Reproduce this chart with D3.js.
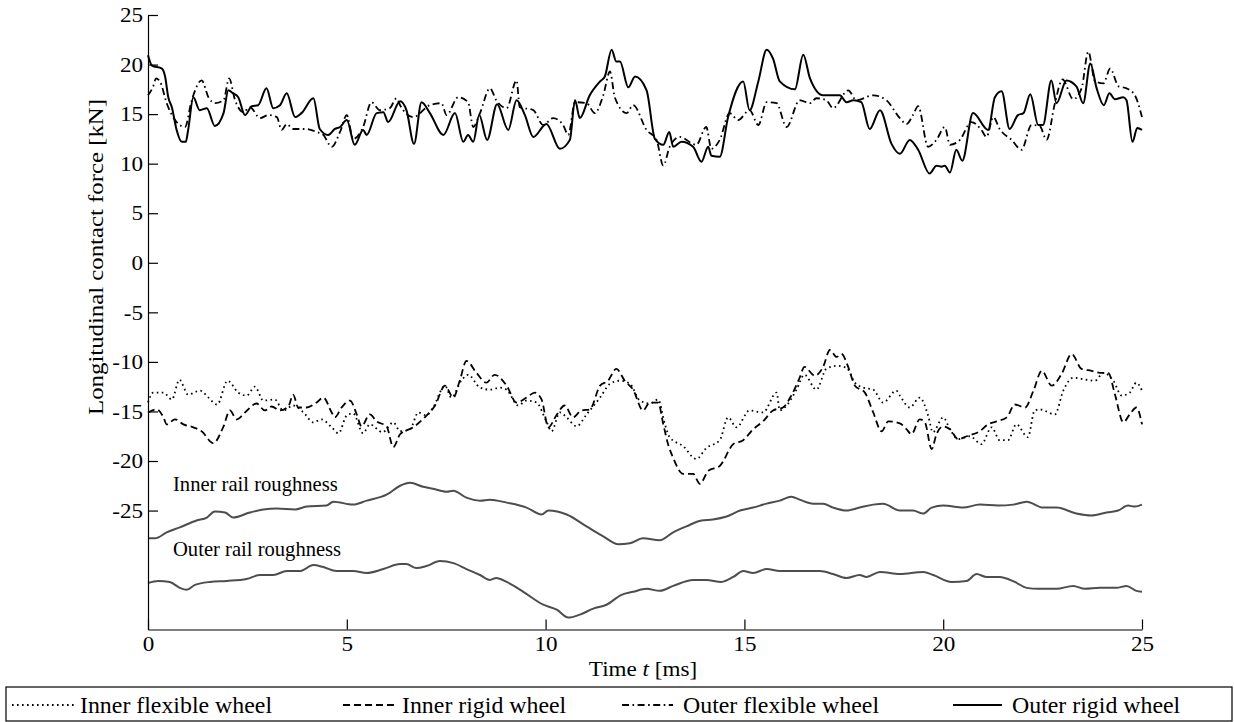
<!DOCTYPE html>
<html>
<head>
<meta charset="utf-8">
<script src="https://cdn.jsdelivr.net/npm/d3@7"></script>
<style>
  body { margin: 0; background: #fff; }
  svg text { font-family: 'Liberation Serif', 'Times New Roman', serif; fill: #000; }
</style>
</head>
<body>
<div id="chart"></div>
<script>
// ==============================
// DATA  ([t in ms, value])
// ==============================

const outerRigid = [[0,20.95],[0.1,19.9],[0.35,19.6],[0.43,18.8],[0.51,16.7],[0.6,15.7],[0.72,13.4],[0.85,12.2],[0.95,12.2],[1.01,13.4],[1.14,16.7],[1.3,15.4],[1.48,15.6],[1.68,13.8],[1.9,15.1],[2.02,17.4],[2.14,17.1],[2.27,16.7],[2.44,14.9],[2.61,15.8],[2.77,15.9],[2.98,17.6],[3.15,15.6],[3.32,15.9],[3.49,17.1],[3.7,14.7],[3.86,15.1],[4.16,16.6],[4.32,13.5],[4.53,12.9],[4.7,13.5],[4.83,13.7],[5.0,14.4],[5.2,11.9],[5.41,13.4],[5.5,12.9],[5.75,15.1],[5.92,15.2],[6.04,14.2],[6.34,16.3],[6.5,15.4],[6.69,12.0],[6.88,16.2],[7.09,15.1],[7.43,12.9],[7.72,15.1],[7.93,12.2],[8.05,12.9],[8.18,12.2],[8.33,14.9],[8.53,12.4],[8.78,16.0],[9.06,13.4],[9.27,16.4],[9.48,14.9],[9.69,12.7],[10.02,14.0],[10.36,11.5],[10.61,12.4],[10.74,16.4],[10.86,14.6],[11.11,16.9],[11.37,18.3],[11.49,18.8],[11.66,21.5],[11.78,20.3],[11.87,20.3],[12.08,17.7],[12.25,18.8],[12.54,17.4],[12.75,12.5],[12.96,11.9],[13.11,13.2],[13.21,11.7],[13.42,12.2],[13.71,11.7],[13.92,10.2],[14.09,11.7],[14.17,10.8],[14.38,10.7],[14.59,14.7],[14.97,18.3],[15.13,15.4],[15.35,18.3],[15.56,21.5],[15.72,20.6],[15.89,18.3],[16.27,17.5],[16.48,21.0],[16.65,18.6],[16.98,16.9],[17.4,16.9],[17.57,16.2],[17.74,16.4],[17.94,16.2],[18.15,13.5],[18.41,15.4],[18.7,12.0],[18.91,11.0],[19.16,12.4],[19.37,11.4],[19.66,9.0],[19.83,9.8],[19.96,9.7],[20.04,9.8],[20.17,9.1],[20.33,11.4],[20.48,10.3],[20.75,15.1],[21.13,13.4],[21.3,16.7],[21.47,17.3],[21.67,13.5],[21.88,14.9],[22.02,15.1],[22.19,17.0],[22.39,13.9],[22.51,13.9],[22.72,18.4],[22.85,16.1],[23.1,18.4],[23.35,17.8],[23.52,16.1],[23.7,20.1],[23.86,17.6],[24.04,15.9],[24.18,17.1],[24.32,16.5],[24.53,16.7],[24.61,16.4],[24.76,12.2],[24.88,13.6],[25,13.4]];

const outerFlexible = [[0,16.9],[0.14,17.9],[0.2,18.6],[0.3,18.3],[0.47,16.1],[0.72,14.2],[0.93,13.7],[1.1,16.4],[1.35,18.4],[1.52,16.7],[1.68,16.1],[1.9,16.4],[2.04,18.6],[2.19,16.4],[2.4,15.2],[2.56,15.7],[2.82,14.6],[3.02,14.9],[3.24,14.7],[3.36,13.4],[3.49,14.0],[3.65,13.5],[3.99,13.5],[4.24,13.2],[4.41,12.9],[4.62,11.7],[4.83,13.2],[5.0,14.9],[5.16,12.5],[5.41,13.7],[5.62,16.2],[5.83,15.4],[6.08,15.6],[6.25,16.6],[6.34,15.9],[6.67,14.7],[7.09,15.9],[7.38,16.1],[7.51,14.9],[7.8,16.7],[8.05,16.2],[8.18,13.7],[8.35,15.1],[8.6,17.6],[8.76,16.4],[9.02,15.6],[9.27,18.4],[9.35,15.7],[9.69,15.4],[9.94,13.9],[10.19,14.6],[10.44,13.9],[10.57,12.9],[10.74,16.2],[11.03,16.1],[11.24,15.1],[11.45,16.9],[11.62,19.3],[11.74,16.7],[12.04,15.1],[12.2,15.9],[12.54,13.4],[12.79,12.4],[12.96,9.8],[13.12,11.7],[13.37,12.7],[13.79,11.9],[14.04,13.7],[14.17,11.5],[14.38,12.4],[14.63,15.1],[14.84,14.4],[15.13,15.4],[15.35,13.9],[15.56,16.2],[15.81,16.1],[16.06,13.7],[16.39,16.4],[16.65,16.1],[16.81,16.6],[17.06,16.4],[17.23,15.6],[17.61,17.4],[17.82,16.4],[18.24,16.9],[18.57,16.4],[18.91,14.6],[19.08,14.0],[19.24,14.9],[19.37,15.8],[19.62,11.7],[19.83,12.4],[20.04,13.7],[20.17,11.9],[20.42,12.4],[20.71,14.2],[20.96,13.4],[21.09,12.7],[21.26,14.7],[21.42,13.5],[21.72,12.4],[21.97,11.4],[22.22,13.9],[22.43,13.8],[22.6,12.4],[22.81,16.1],[23.0,18.5],[23.27,16.5],[23.48,17.6],[23.65,21.3],[23.82,18.3],[24.03,18.1],[24.2,19.6],[24.41,17.8],[24.61,17.6],[24.82,16.9],[25,14.7]];

const innerRigid = [[0,-15.1],[0.22,-14.8],[0.39,-15.6],[0.47,-16.3],[0.68,-15.8],[0.89,-16.3],[1.14,-16.6],[1.35,-17.0],[1.64,-18.2],[1.9,-16.5],[2.06,-14.9],[2.23,-15.8],[2.44,-15.1],[2.73,-14.2],[2.94,-14.9],[3.11,-14.5],[3.32,-14.9],[3.53,-14.5],[3.65,-13.3],[3.78,-14.6],[3.99,-14.6],[4.24,-14.1],[4.41,-13.6],[4.62,-15.1],[4.7,-15.6],[4.87,-14.6],[5.08,-13.9],[5.25,-15.3],[5.37,-16.5],[5.58,-15.3],[5.75,-16.0],[6.0,-16.5],[6.17,-18.6],[6.34,-17.3],[6.67,-16.6],[6.96,-15.6],[7.22,-14.4],[7.47,-12.4],[7.68,-13.6],[7.84,-11.9],[8.01,-9.9],[8.26,-11.1],[8.51,-12.1],[8.72,-11.3],[9.02,-12.4],[9.27,-14.1],[9.52,-13.6],[9.73,-13.1],[9.9,-13.8],[10.07,-16.6],[10.27,-15.4],[10.48,-14.4],[10.69,-15.6],[10.9,-14.9],[11.11,-14.8],[11.37,-12.4],[11.57,-11.9],[11.78,-10.7],[11.99,-11.9],[12.2,-12.8],[12.45,-14.9],[12.62,-14.1],[12.83,-14.1],[12.96,-16.3],[13.08,-18.3],[13.21,-19.7],[13.46,-21.3],[13.71,-21.3],[13.88,-22.3],[14.09,-21.0],[14.38,-20.5],[14.72,-18.3],[14.97,-17.9],[15.22,-16.8],[15.47,-16.0],[15.72,-14.9],[15.97,-14.6],[16.18,-13.4],[16.39,-11.6],[16.51,-10.5],[16.77,-11.4],[16.98,-10.5],[17.15,-8.8],[17.32,-9.5],[17.44,-9.2],[17.61,-10.5],[17.78,-12.4],[18.03,-13.1],[18.24,-15.1],[18.45,-17.0],[18.62,-16.0],[18.91,-16.2],[19.08,-16.8],[19.2,-17.3],[19.41,-15.8],[19.54,-16.1],[19.71,-18.8],[19.83,-17.3],[20.0,-16.5],[20.17,-16.8],[20.38,-17.8],[20.59,-17.5],[20.92,-17.0],[21.13,-16.3],[21.34,-16.0],[21.6,-15.6],[21.8,-14.3],[22.06,-14.6],[22.27,-12.9],[22.48,-10.9],[22.73,-12.4],[22.98,-11.2],[23.23,-9.2],[23.48,-10.7],[23.73,-10.9],[23.94,-11.1],[24.15,-11.1],[24.32,-13.3],[24.53,-16.1],[24.69,-15.3],[24.86,-14.6],[25,-16.3]];

const innerFlexible = [[0,-14.1],[0.13,-13.1],[0.39,-13.1],[0.6,-13.8],[0.79,-11.8],[1.01,-13.3],[1.31,-12.9],[1.52,-13.6],[1.74,-14.3],[2.0,-11.9],[2.27,-13.1],[2.48,-13.4],[2.69,-12.5],[2.9,-13.9],[3.19,-13.8],[3.4,-14.9],[3.65,-14.4],[3.91,-15.1],[4.16,-16.1],[4.36,-15.8],[4.62,-16.6],[4.79,-17.2],[5.0,-15.4],[5.16,-15.2],[5.41,-17.2],[5.58,-16.3],[5.9,-17.1],[6.17,-16.1],[6.34,-17.0],[6.59,-16.8],[6.8,-15.1],[7.0,-15.4],[7.17,-14.6],[7.47,-12.4],[7.63,-13.6],[7.88,-11.9],[8.05,-11.3],[8.35,-12.6],[8.6,-12.8],[8.85,-12.6],[9.02,-12.8],[9.31,-14.4],[9.52,-13.9],[9.77,-14.1],[10.02,-16.0],[10.15,-17.0],[10.36,-15.1],[10.53,-15.6],[10.78,-16.5],[11.03,-15.3],[11.37,-13.6],[11.62,-12.2],[11.87,-11.9],[12.12,-12.2],[12.37,-13.9],[12.62,-14.2],[12.83,-13.8],[13.0,-16.3],[13.12,-17.6],[13.46,-18.5],[13.79,-19.8],[14.04,-18.7],[14.38,-17.9],[14.59,-15.6],[14.8,-16.6],[15.13,-14.9],[15.47,-15.1],[15.81,-13.1],[15.89,-14.9],[16.06,-14.4],[16.31,-12.8],[16.51,-11.3],[16.81,-12.8],[17.06,-10.7],[17.32,-10.4],[17.57,-10.6],[17.78,-12.1],[17.99,-12.6],[18.24,-12.8],[18.49,-14.1],[18.82,-12.9],[18.91,-13.4],[19.16,-14.6],[19.41,-13.6],[19.62,-15.4],[19.74,-17.1],[20.0,-15.6],[20.17,-16.8],[20.38,-17.8],[20.67,-17.5],[20.96,-18.3],[21.22,-16.6],[21.42,-17.9],[21.63,-17.9],[21.84,-16.3],[22.13,-17.6],[22.3,-14.9],[22.43,-14.8],[22.81,-15.3],[23.02,-12.9],[23.27,-11.6],[23.6,-11.8],[23.82,-11.9],[24.03,-11.1],[24.28,-11.9],[24.49,-13.4],[24.69,-13.1],[24.86,-12.1],[25,-12.9]];

const innerRoughness = [[0,-27.8],[0.18,-27.8],[0.47,-27.2],[0.8,-26.7],[1.22,-26.0],[1.48,-25.7],[1.68,-25.1],[1.94,-25.2],[2.14,-25.7],[2.56,-25.2],[2.9,-24.9],[3.24,-24.8],[3.7,-24.9],[3.99,-24.6],[4.49,-24.5],[4.66,-24.1],[5.16,-24.4],[5.5,-24.0],[6.0,-23.4],[6.34,-22.5],[6.59,-22.2],[6.92,-22.6],[7.17,-22.8],[7.51,-23.1],[7.68,-23.0],[8.01,-23.7],[8.35,-24.0],[8.6,-23.9],[9.02,-24.2],[9.52,-24.7],[9.9,-25.4],[10.07,-25.0],[10.53,-25.4],[11.03,-26.6],[11.45,-27.6],[11.83,-28.4],[12.12,-28.3],[12.45,-27.8],[12.87,-28.0],[13.21,-27.2],[13.54,-26.6],[13.92,-26.0],[14.21,-25.9],[14.55,-25.6],[14.89,-25.0],[15.22,-24.7],[15.56,-24.3],[15.89,-24.0],[16.18,-23.6],[16.39,-23.9],[16.73,-24.3],[16.98,-24.3],[17.23,-24.7],[17.57,-25.0],[17.9,-24.7],[18.24,-24.4],[18.49,-24.3],[18.91,-25.0],[19.24,-25.0],[19.5,-25.3],[19.71,-24.7],[20.0,-24.5],[20.5,-24.7],[20.92,-24.4],[21.38,-24.5],[21.76,-24.4],[22.1,-24.1],[22.51,-24.7],[22.85,-24.7],[23.35,-25.3],[23.73,-25.5],[24.11,-25.2],[24.4,-25.0],[24.65,-24.5],[24.82,-24.6],[25,-24.4]];

const outerRoughness = [[0,-32.3],[0.26,-32.1],[0.55,-32.2],[0.8,-32.8],[0.97,-33.0],[1.18,-32.5],[1.56,-32.2],[1.98,-32.1],[2.48,-31.9],[2.82,-31.5],[3.15,-31.5],[3.49,-31.1],[3.82,-31.1],[4.16,-30.5],[4.41,-30.7],[4.74,-31.1],[5.16,-31.1],[5.5,-31.3],[5.92,-30.9],[6.34,-30.4],[6.5,-30.4],[6.75,-30.8],[7.0,-30.6],[7.34,-30.1],[7.68,-30.3],[8.01,-30.9],[8.35,-31.5],[8.6,-32.0],[8.76,-31.8],[9.02,-32.2],[9.44,-33.2],[9.94,-34.5],[10.28,-35.0],[10.57,-35.8],[10.86,-35.5],[11.2,-34.9],[11.53,-34.5],[11.91,-33.5],[12.2,-33.2],[12.54,-32.9],[12.87,-33.1],[13.21,-32.6],[13.71,-32.0],[14.04,-32.0],[14.42,-32.2],[14.72,-31.7],[14.97,-31.1],[15.22,-31.3],[15.56,-30.9],[15.89,-31.1],[16.23,-31.1],[16.56,-31.1],[16.9,-31.1],[17.23,-31.4],[17.57,-31.8],[17.9,-31.5],[18.07,-31.7],[18.41,-31.2],[18.91,-31.4],[19.5,-31.2],[19.75,-31.5],[20.21,-32.2],[20.59,-32.1],[20.84,-31.4],[21.09,-31.7],[21.42,-31.7],[21.8,-32.2],[22.1,-32.8],[22.39,-32.9],[22.85,-32.9],[23.27,-32.6],[23.56,-32.9],[23.94,-32.8],[24.36,-32.8],[24.61,-32.6],[24.86,-33.1],[25,-33.2]];

const xTicks = [0, 5, 10, 15, 20, 25];
const yTicks = [-25, -20, -15, -10, -5, 0, 5, 10, 15, 20, 25];

const legendLabels = ['Inner flexible wheel', 'Inner rigid wheel', 'Outer flexible wheel', 'Outer rigid wheel'];

// ==============================
// RENDER
// ==============================

const W = 1234, H = 722;
const svg = d3.select('#chart').append('svg').attr('width', W).attr('height', H);
svg.append('rect').attr('width', W).attr('height', H).attr('fill', '#fff');

const x = d3.scaleLinear().domain([0, 25]).range([148, 1142]);
const y = d3.scaleLinear().domain([-37, 25]).range([629.5, 15]);

// stretch text horizontally (reference type is set a bit wide)
function stretch(sel, k) {
  sel.each(function () {
    const w = this.getComputedTextLength();
    d3.select(this).attr('textLength', w * k).attr('lengthAdjust', 'spacingAndGlyphs');
  });
}

// line styles
const styles = {
  innerFlexible: { dash: '1.6,3.4', width: 1.8, color: '#000' },
  innerRigid: { dash: '7,4', width: 1.8, color: '#000' },
  outerFlexible: { dash: '7,3.5,1.6,3.5', width: 1.8, color: '#000' },
  outerRigid: { dash: null, width: 2, color: '#000' },
  roughness: { dash: null, width: 2, color: '#4d4d4d' },
};

const line = d3.line()
  .x((d) => x(d[0]))
  .y((d) => y(d[1]))
  .curve(d3.curveMonotoneX);

function drawSeries(data, st) {
  svg.append('path')
    .datum(data)
    .attr('fill', 'none')
    .attr('stroke', st.color)
    .attr('stroke-width', st.width)
    .attr('stroke-linejoin', 'round')
    .attr('stroke-dasharray', st.dash)
    .attr('d', line);
}

drawSeries(innerRoughness, styles.roughness);
drawSeries(outerRoughness, styles.roughness);
drawSeries(innerFlexible, styles.innerFlexible);
drawSeries(innerRigid, styles.innerRigid);
drawSeries(outerFlexible, styles.outerFlexible);
drawSeries(outerRigid, styles.outerRigid);

// axes
const yAxisG = svg.append('g')
  .attr('transform', `translate(${x(0)},0)`)
  .call(d3.axisLeft(y).tickValues(yTicks).tickSizeInner(-10).tickSizeOuter(0)
    .tickPadding(5).tickFormat((d) => String(d)));
const xAxisG = svg.append('g')
  .attr('transform', `translate(0,${y(-37)})`)
  .call(d3.axisBottom(x).tickValues(xTicks).tickSizeInner(-10).tickSizeOuter(0)
    .tickPadding(7).tickFormat((d) => String(d)));

[yAxisG, xAxisG].forEach((g) => {
  g.select('.domain').attr('stroke', '#000').attr('stroke-width', 1.2);
  g.selectAll('.tick line').attr('stroke', '#000').attr('stroke-width', 1.2);
  g.selectAll('.tick text')
    .style('font-family', "'Liberation Serif', serif")
    .style('font-size', '21px')
    .attr('fill', '#000');
  stretch(g.selectAll('.tick text'), 1.1);
});

// axis titles
const yLabel = svg.append('text')
  .attr('transform', 'translate(103,257) rotate(-90)')
  .attr('text-anchor', 'middle')
  .style('font-size', '21px')
  .text('Longitudinal contact force [kN]');
stretch(yLabel, 1.18);

const xLabel = svg.append('text')
  .attr('x', 643)
  .attr('y', 676)
  .attr('text-anchor', 'middle')
  .style('font-size', '21px');
xLabel.append('tspan').text('Time ');
xLabel.append('tspan').style('font-style', 'italic').text('t');
xLabel.append('tspan').text(' [ms]');
stretch(xLabel, 1.1);

// roughness annotations
svg.append('text').attr('x', 173).attr('y', 491).style('font-size', '20.6px').text('Inner rail roughness');
svg.append('text').attr('x', 173).attr('y', 556).style('font-size', '20.6px').text('Outer rail roughness');

// legend
svg.append('rect')
  .attr('x', 6).attr('y', 687).attr('width', 1226).attr('height', 34)
  .attr('fill', '#fff').attr('stroke', '#000').attr('stroke-width', 1.2);

const legendItems = [
  { label: legendLabels[0], st: styles.innerFlexible, x0: 12, x1: 74, tx: 80 },
  { label: legendLabels[1], st: styles.innerRigid, x0: 343, x1: 398, tx: 402 },
  { label: legendLabels[2], st: styles.outerFlexible, x0: 622, x1: 673, tx: 683 },
  { label: legendLabels[3], st: styles.outerRigid, x0: 953, x1: 1002, tx: 1012 },
];

const lg = svg.append('g');
legendItems.forEach((d) => {
  lg.append('line')
    .attr('x1', d.x0).attr('x2', d.x1).attr('y1', 705).attr('y2', 705)
    .attr('stroke', d.st.color).attr('stroke-width', d.st.width)
    .attr('stroke-dasharray', d.st.dash);
  const t = lg.append('text')
    .attr('x', d.tx).attr('y', 713)
    .style('font-size', '22.5px')
    .text(d.label);
  stretch(t, 1.06);
});
</script>
</body>
</html>
